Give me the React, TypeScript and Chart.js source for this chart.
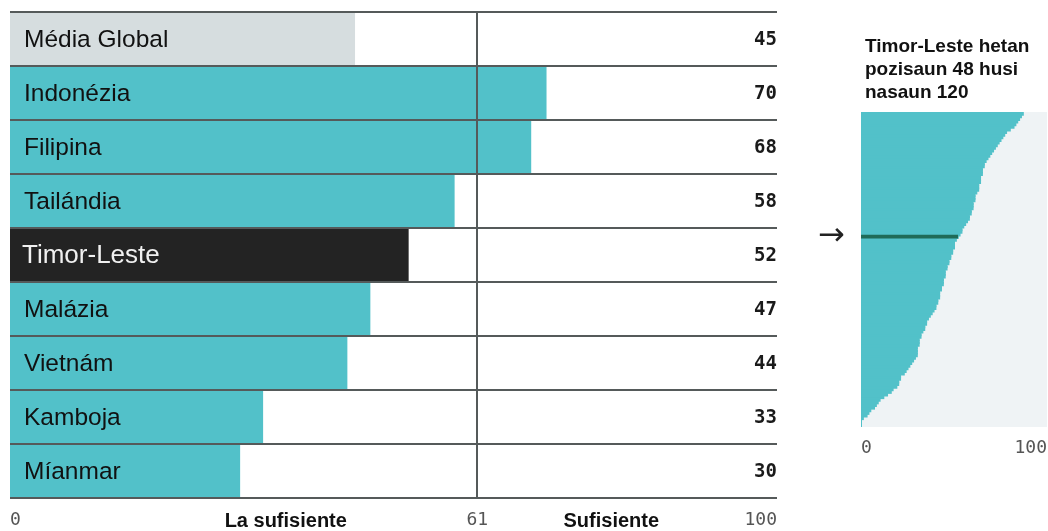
import React, { useEffect, useRef } from "react";
import { Chart, registerables } from "chart.js";

Chart.register(...registerables);

// ---------- Data ----------
const categories = [
  "Média Global",
  "Indonézia",
  "Filipina",
  "Tailándia",
  "Timor-Leste",
  "Malázia",
  "Vietnám",
  "Kamboja",
  "Míanmar",
];
const scores = [45, 70, 68, 58, 52, 47, 44, 33, 30];
const thresholdValue = 61;
const axisTicks = [0, 61, 100];
const zoneLabels = ["La sufisiente", "Sufisiente"];
const zoneCenters = [36, 78.5];

// 120 countries, sorted descending
const globalScores = [
  87, 86, 85, 84, 83, 82, 80, 78, 77, 76,
  75, 74, 73, 72, 71, 70, 69, 68, 67, 66,
  66, 65, 65, 65, 64, 64, 64, 63, 63, 63,
  62, 61, 61, 61, 60, 60, 60, 59, 59, 58,
  58, 57, 56, 55, 54, 54, 53, 52, 51, 50,
  50, 50, 49, 49, 48, 48, 47, 47, 46, 46,
  45, 45, 45, 44, 44, 44, 43, 43, 42, 42,
  42, 41, 41, 40, 40, 39, 38, 37, 36, 35,
  35, 34, 34, 33, 32, 32, 31, 31, 31, 30,
  30, 30, 30, 29, 28, 27, 26, 25, 24, 23,
  21, 21, 20, 20, 19, 17, 16, 14, 12, 10,
  9, 8, 7, 5, 4, 3, 1, 0, 0, 0,
];
const timorRank = 48;
const timorScore = 52;
const panelTitle = ["Timor-Leste hetan", "pozisaun 48 husi", "nasaun 120"];
const panelTicks = [0, 100];
const arrowLabel = "→";

// ---------- Styles ----------
const TEAL = "#52c1c9";
const GLOBAL_GRAY = "#d6dddf";
const TIMOR_DARK = "#232323";
const LINE = "#555a5a";
const PANEL_BG = "#eff3f5";
const MARK_GREEN = "#1f6b58";
const SANS = '"Liberation Sans", Arial, sans-serif';
const MONO = '"DejaVu Sans Mono", monospace';

function barColor(name: string) {
  if (name === "Média Global") return GLOBAL_GRAY;
  if (name === "Timor-Leste") return TIMOR_DARK;
  return TEAL;
}

const leftPlugin = {
  id: "leftDecor",
  afterDatasetsDraw(chart: any) {
    const { ctx, chartArea, scales } = chart;
    const { left, right, top, bottom } = chartArea;
    const x = scales.x;
    const y = scales.y;
    const half = (y.getPixelForValue(1) - y.getPixelForValue(0)) / 2;
    ctx.save();
    ctx.strokeStyle = LINE;
    ctx.lineWidth = 2;
    for (let i = 0; i <= categories.length; i++) {
      const yy = Math.round(y.getPixelForValue(i) - half);
      ctx.beginPath();
      ctx.moveTo(left, yy);
      ctx.lineTo(right + 1, yy);
      ctx.stroke();
    }
    const tx = Math.round(x.getPixelForValue(thresholdValue));
    ctx.beginPath();
    ctx.moveTo(tx, top);
    ctx.lineTo(tx, bottom);
    ctx.stroke();

    // category labels & values
    ctx.textBaseline = "middle";
    categories.forEach((name, i) => {
      const yy = y.getPixelForValue(i) + 1;
      if (name === "Timor-Leste") {
        ctx.font = `26px ${SANS}`;
        ctx.fillStyle = "#f0f0f0";
        ctx.textAlign = "left";
        ctx.fillText(name, left + 12, yy);
      } else {
        ctx.font = `24.5px ${SANS}`;
        ctx.fillStyle = "#111";
        ctx.textAlign = "left";
        ctx.fillText(name, left + 14, yy);
      }
      ctx.font = `bold 19px ${MONO}`;
      ctx.fillStyle = "#1a1a1a";
      ctx.textAlign = "right";
      ctx.fillText(String(scores[i]), right + 1, yy);
    });

    // bottom axis labels
    const by = bottom + 22;
    ctx.font = `18px ${MONO}`;
    ctx.fillStyle = "#555";
    axisTicks.forEach((t, i) => {
      const px = x.getPixelForValue(t);
      ctx.textAlign = i === 0 ? "left" : i === axisTicks.length - 1 ? "right" : "center";
      ctx.fillText(String(t), i === axisTicks.length - 1 ? px + 1 : px, by);
    });
    ctx.font = `bold 20px ${SANS}`;
    ctx.fillStyle = "#111";
    ctx.textAlign = "center";
    zoneLabels.forEach((lab, i) => {
      ctx.fillText(lab, x.getPixelForValue(zoneCenters[i]), by + 1);
    });
    ctx.restore();
  },
};

const rightPlugin = {
  id: "rightDecor",
  beforeDatasetsDraw(chart: any) {
    const { ctx, chartArea } = chart;
    ctx.save();
    ctx.fillStyle = PANEL_BG;
    ctx.fillRect(chartArea.left, chartArea.top, chartArea.right - chartArea.left, chartArea.bottom - chartArea.top);
    ctx.restore();
  },
  afterDraw(chart: any) {
    const { ctx, chartArea, scales } = chart;
    const x = scales.x;
    const y = scales.y;
    ctx.save();
    ctx.font = `bold 19px ${SANS}`;
    ctx.fillStyle = "#111";
    ctx.textAlign = "left";
    ctx.textBaseline = "alphabetic";
    panelTitle.forEach((line, i) => {
      ctx.fillText(line, chartArea.left + 4, 52 + i * 23);
    });
    // arrow
    const ay = y.getPixelForValue(timorRank - 1);
    ctx.font = `32px "DejaVu Sans", sans-serif`;
    ctx.fillStyle = "#222";
    ctx.textBaseline = "middle";
    ctx.fillText(arrowLabel, 18, ay);
    // ticks
    ctx.font = `18px ${MONO}`;
    ctx.fillStyle = "#555";
    panelTicks.forEach((t, i) => {
      const px = x.getPixelForValue(t);
      ctx.textAlign = i === 0 ? "left" : "right";
      ctx.fillText(String(t), px, chartArea.bottom + 21);
    });
    ctx.restore();
  },
};

export default function App() {
  const leftRef = useRef<HTMLCanvasElement | null>(null);
  const rightRef = useRef<HTMLCanvasElement | null>(null);

  useEffect(() => {
    const left = new Chart(leftRef.current as HTMLCanvasElement, {
      type: "bar",
      data: {
        labels: categories,
        datasets: [
          {
            data: scores,
            backgroundColor: categories.map(barColor),
            borderWidth: 0,
            categoryPercentage: 1,
            barPercentage: 1,
          },
        ],
      },
      options: {
        indexAxis: "y",
        responsive: false,
        animation: false,
        layout: { padding: { left: 10, right: 24, top: 12, bottom: 33 } },
        scales: {
          x: { display: false, min: 0, max: 100 },
          y: { display: false },
        },
        plugins: { legend: { display: false }, tooltip: { enabled: false } },
      },
      plugins: [leftPlugin],
    } as any);

    const right = new Chart(rightRef.current as HTMLCanvasElement, {
      type: "bar",
      data: {
        labels: globalScores.map((_, i) => String(i + 1)),
        datasets: [
          {
            data: globalScores.map((v, i) => (i === timorRank - 1 ? timorScore : null)),
            backgroundColor: MARK_GREEN,
            borderWidth: 0,
            barThickness: 3,
            grouped: false,
            order: 0,
          },
          {
            data: globalScores,
            backgroundColor: TEAL,
            borderWidth: 0,
            categoryPercentage: 1,
            barPercentage: 1,
            inflateAmount: 1,
            grouped: false,
            order: 1,
          },
        ],
      },
      options: {
        indexAxis: "y",
        responsive: false,
        animation: false,
        layout: { padding: { left: 61, right: 1, top: 112, bottom: 104 } },
        scales: {
          x: { display: false, min: 0, max: 100 },
          y: { display: false },
        },
        plugins: { legend: { display: false }, tooltip: { enabled: false } },
      },
      plugins: [rightPlugin],
    } as any);

    return () => {
      left.destroy();
      right.destroy();
    };
  }, []);

  return (
    <div style={{ position: "absolute", left: 0, top: 0, width: 1048, height: 531, background: "#fff" }}>
      <canvas ref={leftRef} width={800} height={531} style={{ position: "absolute", left: 0, top: 0 }} />
      <canvas ref={rightRef} width={248} height={531} style={{ position: "absolute", left: 800, top: 0 }} />
    </div>
  );
}
